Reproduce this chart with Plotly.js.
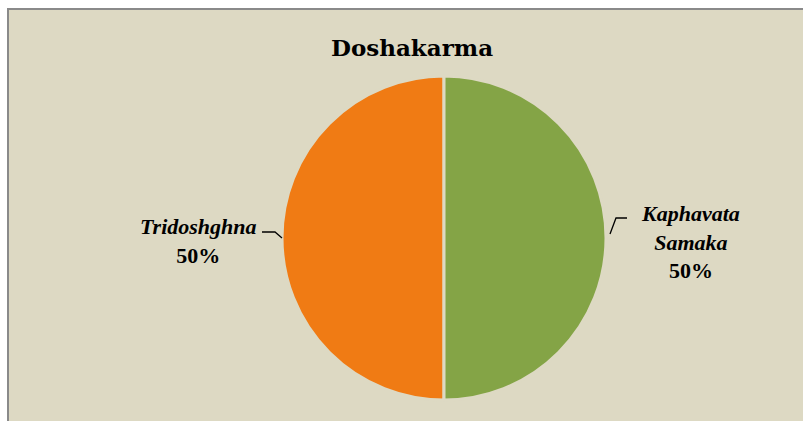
<!DOCTYPE html>
<html>
<head>
<meta charset="utf-8">
<script src="https://cdn.plot.ly/plotly-3.0.1.min.js"></script>
<style>html,body{margin:0;padding:0;background:#fff;}#chart{width:803px;height:421px;}</style>
</head>
<body>
<div id="chart"></div>
<script>
var categories = ['Tridoshghna', 'Kaphavata Samaka'];
var values = [50, 50];
var sliceColors = ['#f07b14', '#84a446'];
var labelLines = [['Tridoshghna'], ['Kaphavata', 'Samaka']];
var chartTitle = 'Doshakarma';

var W = 803, H = 421;
function px(x) { return x / W; }
function py(y) { return 1 - y / H; }

var total = values.reduce(function (a, b) { return a + b; }, 0);
var pct = values.map(function (v) { return Math.round(100 * v / total) + '%'; });

var trace = {
  type: 'pie',
  labels: categories,
  values: values,
  sort: false,
  direction: 'clockwise',
  rotation: 180,
  textinfo: 'none',
  hoverinfo: 'label+percent',
  marker: { colors: sliceColors, line: { color: '#ddd9c3', width: 3 } },
  domain: { x: [px(280), px(608)], y: [py(400), py(76)] },
  showlegend: false
};

var annotations = [
  {
    text: '<b><i>' + labelLines[0].join('<br>') + '</i></b><br><b>' + pct[0] + '</b>',
    x: px(259), y: py(241), xref: 'paper', yref: 'paper',
    xanchor: 'right', yanchor: 'middle', align: 'center', showarrow: false,
    font: { family: 'Liberation Serif, serif', size: 22, color: '#000' }
  },
  {
    text: '<b><i>' + labelLines[1].join('<br>') + '</i></b><br><b>' + pct[1] + '</b>',
    x: px(690), y: py(242), xref: 'paper', yref: 'paper',
    xanchor: 'center', yanchor: 'middle', align: 'center', showarrow: false,
    font: { family: 'Liberation Serif, serif', size: 22, color: '#000' }
  },
  {
    text: '<b>' + chartTitle + '</b>',
    x: px(412), y: py(47), xref: 'paper', yref: 'paper',
    xanchor: 'center', yanchor: 'middle', showarrow: false,
    font: { family: 'DejaVu Serif, serif', size: 23, color: '#000' }
  }
];

var shapes = [
  {
    type: 'rect', xref: 'paper', yref: 'paper', layer: 'below',
    x0: px(8), x1: px(812), y0: py(430), y1: py(9),
    fillcolor: '#ddd9c3', line: { color: '#8a8a8a', width: 2 }
  },
  {
    type: 'path', xref: 'paper', yref: 'paper',
    path: 'M ' + px(262) + ' ' + py(232) + ' L ' + px(275) + ' ' + py(232) + ' L ' + px(282) + ' ' + py(238),
    line: { color: '#000', width: 1.3 }
  },
  {
    type: 'path', xref: 'paper', yref: 'paper',
    path: 'M ' + px(610) + ' ' + py(234) + ' L ' + px(616) + ' ' + py(218) + ' L ' + px(627) + ' ' + py(218),
    line: { color: '#000', width: 1.3 }
  }
];

var layout = {
  width: W, height: H,
  margin: { l: 0, r: 0, t: 0, b: 0, pad: 0 },
  paper_bgcolor: '#ffffff',
  plot_bgcolor: 'rgba(0,0,0,0)',
  showlegend: false,
  annotations: annotations,
  shapes: shapes
};

Plotly.newPlot('chart', [trace], layout, { displayModeBar: false, staticPlot: true });
</script>
</body>
</html>
